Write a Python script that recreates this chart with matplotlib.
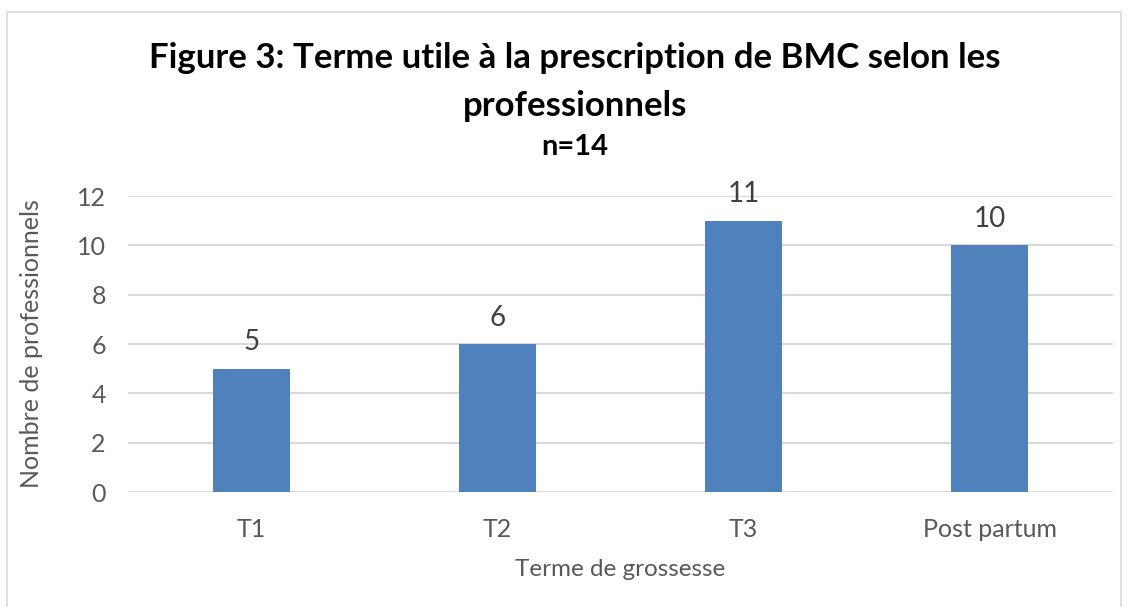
import matplotlib
matplotlib.use("Agg")
import matplotlib.pyplot as plt
from matplotlib.patches import Rectangle

categories = ["T1", "T2", "T3", "Post partum"]
values = [5, 6, 11, 10]
yticks = [0, 2, 4, 6, 8, 10, 12]

plt.rcParams['font.family'] = ['Lato', 'DejaVu Sans']
txt = "#595959"

fig = plt.figure(figsize=(11.29, 6.07), dpi=100)
fig.patches.append(Rectangle((7/1129, -0.01), (1121-7)/1129, 1 - 12/607 + 0.01,
                             transform=fig.transFigure, fill=False,
                             edgecolor="#D9D9D9", linewidth=1.2))

ax = fig.add_axes([128/1129, 1 - 492/607, (1113-128)/1129, (492-196)/607])
x = list(range(len(categories)))
ax.bar(x, values, width=0.313, color="#4F81BD", zorder=3)
ax.set_xlim(-0.5, len(categories) - 0.5)
ax.set_ylim(0, 12)
ax.set_yticks(yticks)
ax.set_xticks(x)
ax.set_xticklabels(categories)
ax.grid(axis="y", color="#D9D9D9", linewidth=1.5, zorder=0)
for s in ax.spines.values():
    s.set_visible(False)
ax.tick_params(axis="both", length=0, labelsize=18, colors=txt)
ax.tick_params(axis="x", pad=19)
ax.tick_params(axis="y", pad=16)

for xi, v in zip(x, values):
    ax.annotate(str(v), (xi, v), xytext=(0, 19), textcoords="offset points",
                ha="center", va="center", fontsize=20, color="#404040")

ax.text(0.5, (492-570)/296, "Terme de grossesse", transform=ax.transAxes,
        ha="center", va="center", fontsize=17.5, color=txt)
ax.text((32-128)/985, 0.5, "Nombre de professionnels", transform=ax.transAxes,
        ha="center", va="center", rotation=90, fontsize=18, color=txt)

fig.text(575/1129, 1 - 58/607, "Figure 3: Terme utile à la prescription de BMC selon les",
         ha="center", va="center", fontsize=25, fontweight="bold", color="black")
fig.text(575/1129, 1 - 106/607, "professionnels",
         ha="center", va="center", fontsize=25, fontweight="bold", color="black")
fig.text(575/1129, 1 - 147/607, "n=14",
         ha="center", va="center", fontsize=21, fontweight="bold", color="black")

fig.savefig("out.png", dpi=100)
